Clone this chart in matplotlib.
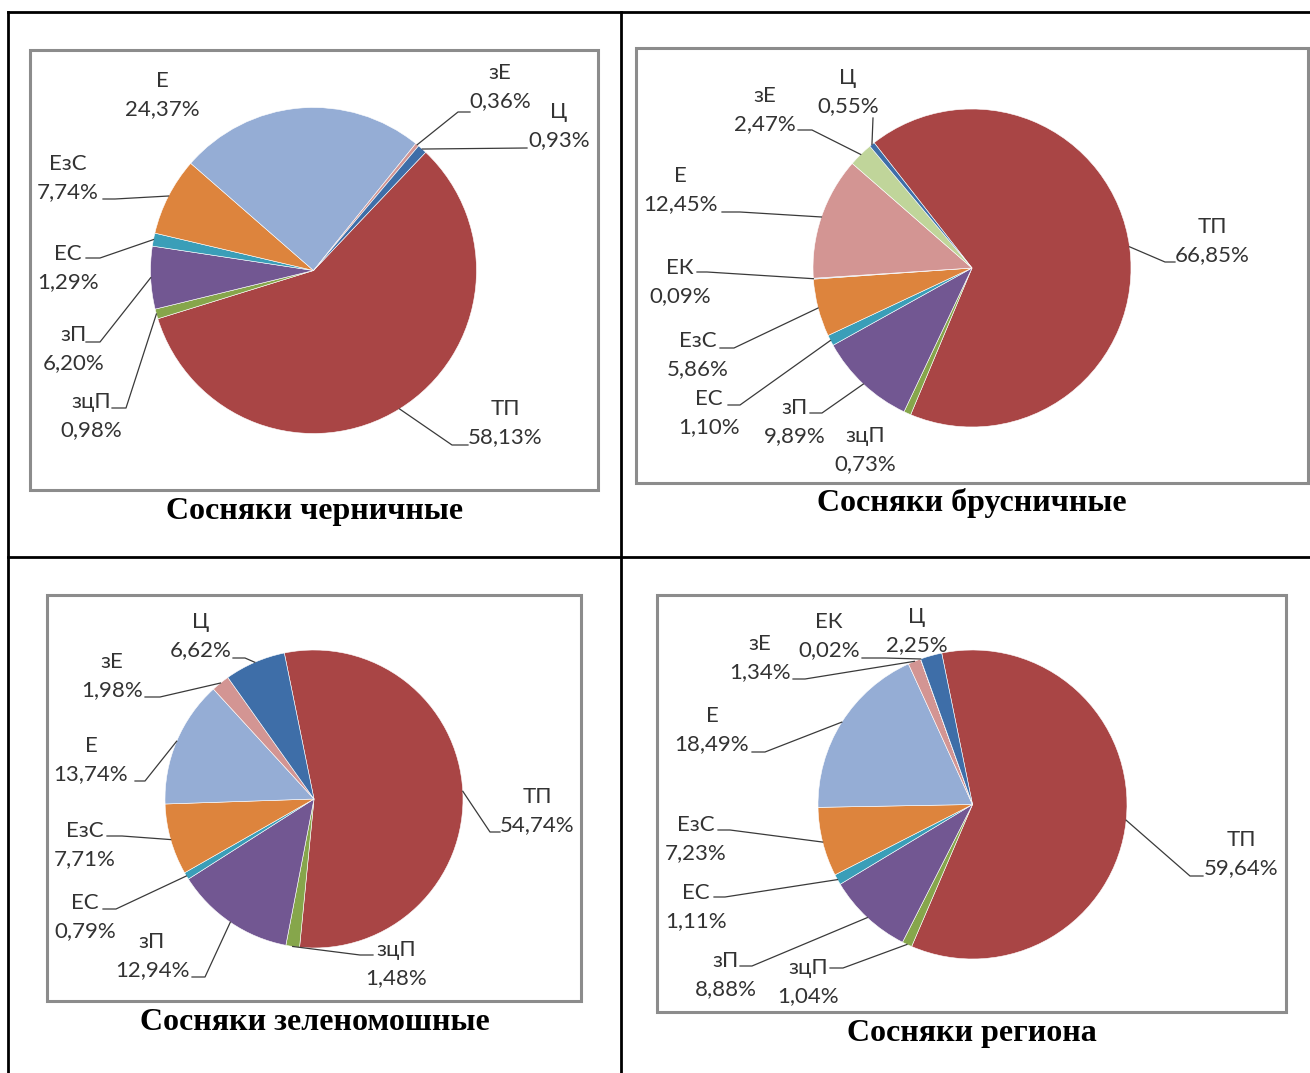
import numpy as np
import matplotlib.pyplot as plt
from matplotlib.patches import Rectangle

W, H = 1310, 1073

# ---- data (order: clockwise, starting with ТП) ----
names1 = ['ТП', 'зцП', 'зП', 'ЕС', 'ЕзС', 'Е', 'зЕ', 'Ц']
vals1 = [58.13, 0.98, 6.20, 1.29, 7.74, 24.37, 0.36, 0.93]

names2 = ['ТП', 'зцП', 'зП', 'ЕС', 'ЕзС', 'ЕК', 'Е', 'зЕ', 'Ц']
vals2 = [66.85, 0.73, 9.89, 1.10, 5.86, 0.09, 12.45, 2.47, 0.55]

names3 = ['ТП', 'зцП', 'зП', 'ЕС', 'ЕзС', 'Е', 'зЕ', 'Ц']
vals3 = [54.74, 1.48, 12.94, 0.79, 7.71, 13.74, 1.98, 6.62]

names4 = ['ТП', 'зцП', 'зП', 'ЕС', 'ЕзС', 'Е', 'зЕ', 'ЕК', 'Ц']
vals4 = [59.64, 1.04, 8.88, 1.11, 7.23, 18.49, 1.34, 0.02, 2.25]

titles = ['Сосняки черничные', 'Сосняки брусничные',
          'Сосняки зеленомошные', 'Сосняки региона']

# colours (Excel-like palette)
RED = '#A94545'
GREEN = '#86A64B'
PURPLE = '#725792'
TEAL = '#3A9EB8'
ORANGE = '#DD843D'
LBLUE = '#95ADD5'
PINK = '#D39593'
DBLUE = '#3E6EA8'
LGREEN = '#C0D59A'
cols1 = [RED, GREEN, PURPLE, TEAL, ORANGE, LBLUE, PINK, DBLUE]
cols2 = [RED, GREEN, PURPLE, TEAL, ORANGE, LBLUE, PINK, LGREEN, DBLUE]
cols3 = [RED, GREEN, PURPLE, TEAL, ORANGE, LBLUE, PINK, DBLUE]
cols4 = [RED, GREEN, PURPLE, TEAL, ORANGE, LBLUE, PINK, LBLUE, DBLUE]

# ---- layout (pixels, y from top) ----
# pie: centre x, centre y, radius, angle (clockwise from top) where ТП starts
pies = [(313.5, 270.5, 163, 43.5),
        (972, 268, 159, 322),
        (314, 799, 149, 348.5),
        (972.5, 804.5, 154.5, 348.5)]
boxes = [(30, 50, 598, 490), (636, 48, 1308, 483),
         (47, 595, 581, 1001), (657, 595, 1286, 1012)]
title_pos = [(315, 511), (972, 503), (315, 1023), (972, 1034)]

# label text centre (x, y), attach point of leader (or None), elbow length
lab1 = {'Е': ((162, 95), None, 0),
        'зЕ': ((500, 87), (470, 112), -12),
        'Ц': ((559, 126), (527, 148), 0),
        'ЕзС': ((68, 178), (103, 199), 12),
        'ЕС': ((68, 268), (86, 258), 14),
        'зП': ((74, 349), (86, 342), 14),
        'зцП': ((91, 416), (112, 408), 14),
        'ТП': ((505, 423), (468, 445), -16)}
lab2 = {'Ц': ((848, 92), (873, 118), 0),
        'зЕ': ((765, 110), (798, 130), 14),
        'Е': ((680, 190), (722, 212), 18),
        'ЕК': ((680, 282), (697, 272), 10),
        'ЕзС': ((698, 355), (720, 348), 14),
        'ЕС': ((709, 413), (728, 405), 12),
        'зП': ((795, 422), (810, 413), 12),
        'зцП': ((865, 450), None, 0),
        'ТП': ((1212, 241), (1175, 262), -10)}
lab3 = {'Ц': ((201, 636), (233, 658), 12),
        'зЕ': ((112, 676), (145, 697), 15),
        'Е': ((91, 760), (135, 781), 10),
        'ЕзС': ((85, 845), (107, 836), 15),
        'ЕС': ((85, 917), (103, 909), 13),
        'зП': ((152, 956), (192, 977), 13),
        'зцП': ((396, 964), (373, 955), -13),
        'ТП': ((537, 811), (500, 832), -10)}
lab4 = {'Ц': ((917, 631), None, 0),
        'ЕК': ((829, 636), (862, 658), 23),
        'зЕ': ((760, 658), (793, 679), 12),
        'Е': ((712, 730), (752, 752), 13),
        'ЕзС': ((696, 839), (718, 830), 12),
        'ЕС': ((696, 907), (714, 897), 11),
        'зП': ((726, 975), (740, 966), 12),
        'зцП': ((808, 982), (830, 968), 13),
        'ТП': ((1241, 854), (1203, 876), -13)}

charts = [(names1, vals1, cols1, lab1), (names2, vals2, cols2, lab2),
          (names3, vals3, cols3, lab3), (names4, vals4, cols4, lab4)]

LABEL_FONT = ['Lato', 'DejaVu Sans']
TXT = '#333333'


def Y(y):
    return H - y


fig = plt.figure(figsize=(W / 100, H / 100), dpi=100)
ax = fig.add_axes([0, 0, 1, 1])

for (names, vals, cols, labs), (cx, cy, r, s), box, tp, title in zip(
        charts, pies, boxes, title_pos, titles):
    # chart frame
    x0, y0, x1, y1 = box
    ax.add_patch(Rectangle((x0, Y(y1)), x1 - x0, y1 - y0, fill=False,
                           edgecolor='#8C8C8C', lw=2.2, zorder=1))
    wedges, _ = ax.pie(vals, colors=cols, startangle=90 - s,
                       counterclock=False, center=(cx, Y(cy)), radius=r,
                       wedgeprops=dict(edgecolor='white', linewidth=0.4))
    # labels and leaders
    tot = sum(vals)
    cum = 0
    for nm, v in zip(names, vals):
        mid = s + (cum + v / 2) / tot * 360
        cum += v
        (tx, ty), att, el = labs[nm]
        txt = '%s\n%s%%' % (nm, ('%.2f' % v).replace('.', ','))
        ax.text(tx, Y(ty), txt, ha='center', va='center', fontsize=16,
                family=LABEL_FONT, color=TXT, linespacing=1.5, zorder=5)
        if att is None:
            continue
        a = np.radians(mid)
        px, py = cx + r * np.sin(a), cy - r * np.cos(a)
        xs = [att[0], att[0] + el, px] if el else [att[0], px]
        ys = [att[1], att[1], py] if el else [att[1], py]
        ax.plot(xs, [Y(q) for q in ys], color='#3A3A3A', lw=0.9, zorder=4)
    ax.text(tp[0], Y(tp[1]), title, ha='center', va='center', fontsize=23,
            family='Liberation Serif', weight='bold', color='black')

# table borders
ax.plot([8, W], [Y(12), Y(12)], color='black', lw=2)
ax.plot([8, 8], [Y(12), 0], color='black', lw=2)
ax.plot([621, 621], [Y(12), 0], color='black', lw=2)
ax.plot([8, W], [Y(557), Y(557)], color='black', lw=2)

ax.set_xlim(0, W)
ax.set_ylim(0, H)
ax.set_aspect('equal')
ax.axis('off')
fig.savefig('out.png', dpi=100)
